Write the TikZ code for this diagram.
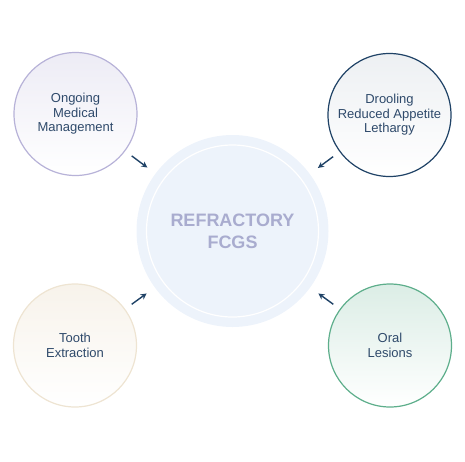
\documentclass[tikz,border=0pt]{standalone}
\usepackage{fontspec}
\setmainfont{Liberation Sans}
\usetikzlibrary{arrows.meta}
\definecolor{navy}{HTML}{1F4266}
\definecolor{labelblue}{HTML}{2F4A6B}
\definecolor{corefill}{HTML}{EDF3FB}
\definecolor{coretext}{HTML}{A9ACCF}
\definecolor{lavender}{HTML}{B7B2D8}
\definecolor{sand}{HTML}{EEE4D2}
\definecolor{sea}{HTML}{5DAE8B}
\begin{document}
\begin{tikzpicture}[x=1pt,y=-1pt,
  bubble/.style={circle,minimum size=123pt,inner sep=0pt,line width=1.2pt,
    align=center,text=labelblue,font=\fontsize{13}{14.5}\selectfont},
  link/.style={-{Stealth[length=6pt,width=6pt]},navy,line width=1.4pt,
    shorten <=8pt,shorten >=10pt}]
  \useasboundingbox (0,0) rectangle (465,461);

  % Center circle
  \node[circle,fill=corefill,minimum size=192pt,inner sep=0pt,align=center,
    text=coretext,font=\bfseries\fontsize{18}{22}\selectfont]
    (core) at (232.5,231) {REFRACTORY\\FCGS};
  \draw[white,line width=1.2pt] (core.center) circle (86pt);

  % Outer bubbles
  \node[bubble,draw=lavender,top color=lavender!25,bottom color=white]
    (ongoing) at (75.5,114) {Ongoing\\Medical\\Management};
  \node[bubble,draw=navy,top color=navy!8,bottom color=white]
    (signs) at (389.5,115) {Drooling\\Reduced Appetite\\Lethargy};
  \node[bubble,draw=sand,top color=sand!45,bottom color=white]
    (tooth) at (75,345.5) {Tooth\\Extraction};
  \node[bubble,draw=sea,top color=sea!22,bottom color=white]
    (lesions) at (390,345.5) {Oral\\Lesions};

  % Arrows into the center
  \draw[link] (ongoing) -- (core);
  \draw[link] (signs) -- (core);
  \draw[link] (tooth) -- (core);
  \draw[link] (lesions) -- (core);

\end{tikzpicture}
\end{document}
